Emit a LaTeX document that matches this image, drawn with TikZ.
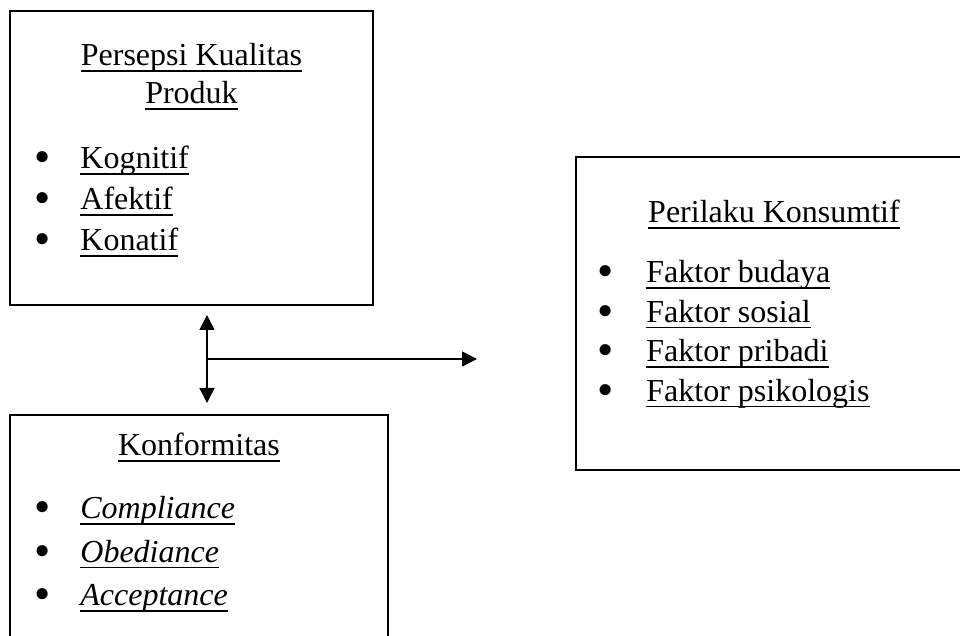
\documentclass[tikz,border=0pt]{standalone}
\usepackage{fontspec}
\setmainfont{Liberation Serif}
\usepackage{tikz}
\usetikzlibrary{arrows.meta, positioning, calc}

\newcommand{\garis}[1]{\setbox0\hbox{#1}\rlap{\rule[-3pt]{\wd0}{0.9pt}}\box0}
\newcommand{\titik}{\raisebox{-1.8pt}{\scalebox{1.45}{\textbullet}}}

\tikzset{
  kotak/.style={draw=black, line width=1.3pt, anchor=north west, inner sep=0pt, outer sep=0pt},
  judul/.style={anchor=base, inner sep=0pt, font=\fontsize{16}{20}\selectfont},
  butir/.style={anchor=base west, inner sep=0pt, font=\fontsize{16}{20}\selectfont},
  panah/.style={line width=0.8pt, -{Triangle[length=7.5pt,width=7.5pt]}}
}

\begin{document}
\begin{tikzpicture}[x=0.5pt, y=-0.5pt]
  \clip (0,0) rectangle (960,636);

  % kotak-kotak
  \node[kotak, minimum width=181.5pt, minimum height=147pt] (persepsi) at (10,11) {};
  \node[kotak, minimum width=189pt, minimum height=150pt] (konformitas) at (10,415) {};
  \node[kotak, minimum width=230pt, minimum height=156.5pt] (konsumtif) at (576,157) {};

  % isi: persepsi kualitas produk
  \node[judul] (j1a) at (191.5,66) {\garis{Persepsi Kualitas}};
  \node[judul] (j1b) at (191.5,104) {\garis{Produk}};
  \foreach \teks [count=\i] in {Kognitif, Afektif, Konatif}
    \node[butir] (p\i) at (34,{169+41*(\i-1)}) {\makebox[23pt][l]{\titik}\garis{\teks}};

  % isi: konformitas
  \node[judul] (j2) at (199,456) {\garis{Konformitas}};
  \foreach \teks [count=\i] in {Compliance, Obediance, Acceptance}
    \node[butir] (k\i) at (34,{519+43.5*(\i-1)}) {\makebox[23pt][l]{\titik}\garis{\textit{\teks}}};

  % isi: perilaku konsumtif
  \node[judul] (j3) at (774,223) {\garis{Perilaku Konsumtif}};
  \foreach \teks [count=\i] in {Faktor budaya, Faktor sosial, Faktor pribadi, Faktor psikologis}
    \node[butir] (f\i) at (597,{283+39.5*(\i-1)}) {\makebox[24.5pt][l]{\titik}\garis{\teks}};

  % panah
  \coordinate (atas) at ([shift={(15.5,10)}]persepsi.south);
  \coordinate (bawah) at (207,403);
  \coordinate (simpang) at ($(atas)!0.5!(bawah)$);
  \coordinate (ujung) at (477,359);
  \draw[panah, {Triangle[length=7.5pt,width=7.5pt]}-{Triangle[length=7.5pt,width=7.5pt]}] (atas) -- (bawah);
  \draw[panah] (simpang) -- (ujung);
\end{tikzpicture}
\end{document}
